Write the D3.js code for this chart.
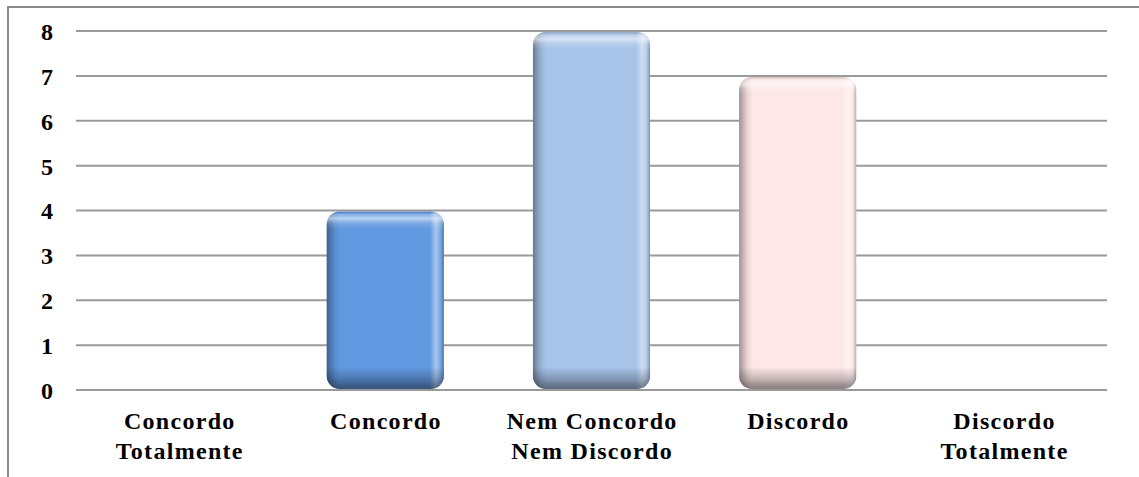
<!DOCTYPE html>
<html>
<head>
<meta charset="utf-8">
<script src="https://cdn.jsdelivr.net/npm/d3@7"></script>
<style>
  html, body { margin: 0; padding: 0; background: #fff; }
  svg { display: block; }
  text { font-family: "Liberation Serif", "Times New Roman", serif; font-weight: bold; fill: #000; }
</style>
</head>
<body>
<svg id="chart" width="1139" height="477"></svg>
<script>
const categories = [["Concordo", "Totalmente"], ["Concordo"], ["Nem Concordo", "Nem Discordo"], ["Discordo"], ["Discordo", "Totalmente"]];
const values = [0, 4, 8, 7, 0];
const barColors = ["#6199e0", "#6199e0", "#a7c3e8", "#fde7e7", "#fde7e7"];
const yTicks = [0, 1, 2, 3, 4, 5, 6, 7, 8];

const svg = d3.select("#chart");
const W = 1139, H = 477;
const plot = { left: 76, right: 1107, top: 31, bottom: 390 };

svg.append("rect").attr("width", W).attr("height", H).attr("fill", "#fff");

const x = d3.scaleBand().domain(d3.range(categories.length)).range([plot.left, plot.right]).paddingInner(0.432).paddingOuter(0.216);
const y = d3.scaleLinear().domain([0, 8]).range([plot.bottom, plot.top]);

// chart border (top + left)
svg.append("path").attr("d", `M8,${H} L8,7 L${W},7`).attr("fill", "none").attr("stroke", "#8a8a8a").attr("stroke-width", 2);

// gridlines
const grid = svg.append("g");
grid.selectAll("line").data(yTicks).join("line")
  .attr("x1", plot.left).attr("x2", plot.right)
  .attr("y1", d => y(d)).attr("y2", d => y(d))
  .attr("stroke", "#9a9a9a").attr("stroke-width", 2);

// y axis labels
const yAxis = d3.axisLeft(y).tickValues(yTicks).tickSize(0).tickPadding(0).tickFormat(d3.format("d"));
const yg = svg.append("g").attr("transform", "translate(53,0)").call(yAxis);
yg.select(".domain").remove();
yg.selectAll("text").attr("font-size", 24).attr("dy", "0.35em")
  .style("font-family", '"Liberation Serif", serif').style("font-weight", "bold").attr("fill", "#000");

// bars with bevel
const defs = svg.append("defs");
const bars = svg.append("g");
values.forEach((v, i) => {
  if (v <= 0) return;
  const bx = x(i), bw = x.bandwidth();
  const by = y(v) + 1, bh = y(0) - y(v) - 2;
  const r = 13;
  // horizontal shading
  const hg = defs.append("linearGradient").attr("id", "hg" + i)
    .attr("gradientUnits", "userSpaceOnUse").attr("x1", bx).attr("x2", bx + bw).attr("y1", 0).attr("y2", 0);
  const hs = [
    [0, "#000", 0.38], [4 / bw, "#000", 0.22], [9 / bw, "#000", 0.06], [14 / bw, "#000", 0],
    [1 - 14 / bw, "#fff", 0], [1 - 8 / bw, "#fff", 0.45], [1 - 4 / bw, "#fff", 0.2], [1, "#000", 0.25]
  ];
  hs.forEach(s => hg.append("stop").attr("offset", s[0]).attr("stop-color", s[1]).attr("stop-opacity", s[2]));
  // vertical shading
  const vg = defs.append("linearGradient").attr("id", "vg" + i)
    .attr("gradientUnits", "userSpaceOnUse").attr("x1", 0).attr("x2", 0).attr("y1", by).attr("y2", by + bh);
  const vs = [
    [0, "#000", 0.12], [3 / bh, "#fff", 0.25], [7 / bh, "#fff", 0.55], [12 / bh, "#fff", 0.15], [18 / bh, "#fff", 0],
    [1 - 22 / bh, "#000", 0], [1 - 10 / bh, "#000", 0.22], [1 - 4 / bh, "#000", 0.38], [1, "#000", 0.45]
  ];
  vs.forEach(s => vg.append("stop").attr("offset", s[0]).attr("stop-color", s[1]).attr("stop-opacity", s[2]));

  const g = bars.append("g");
  g.append("rect").attr("x", bx).attr("y", by).attr("width", bw).attr("height", bh).attr("rx", r).attr("ry", r).attr("fill", barColors[i]);
  g.append("rect").attr("x", bx).attr("y", by).attr("width", bw).attr("height", bh).attr("rx", r).attr("ry", r).attr("fill", `url(#hg${i})`);
  g.append("rect").attr("x", bx).attr("y", by).attr("width", bw).attr("height", bh).attr("rx", r).attr("ry", r).attr("fill", `url(#vg${i})`);
});

// category labels
const lab = svg.append("g");
categories.forEach((lines, i) => {
  const t = lab.append("text").attr("x", x(i) + x.bandwidth() / 2).attr("text-anchor", "middle")
    .attr("font-size", 24).style("letter-spacing", "1.3px");
  lines.forEach((ln, j) => {
    t.append("tspan").attr("x", x(i) + x.bandwidth() / 2 + 0.65).attr("y", 429 + j * 30).text(ln);
  });
});
</script>
</body>
</html>
